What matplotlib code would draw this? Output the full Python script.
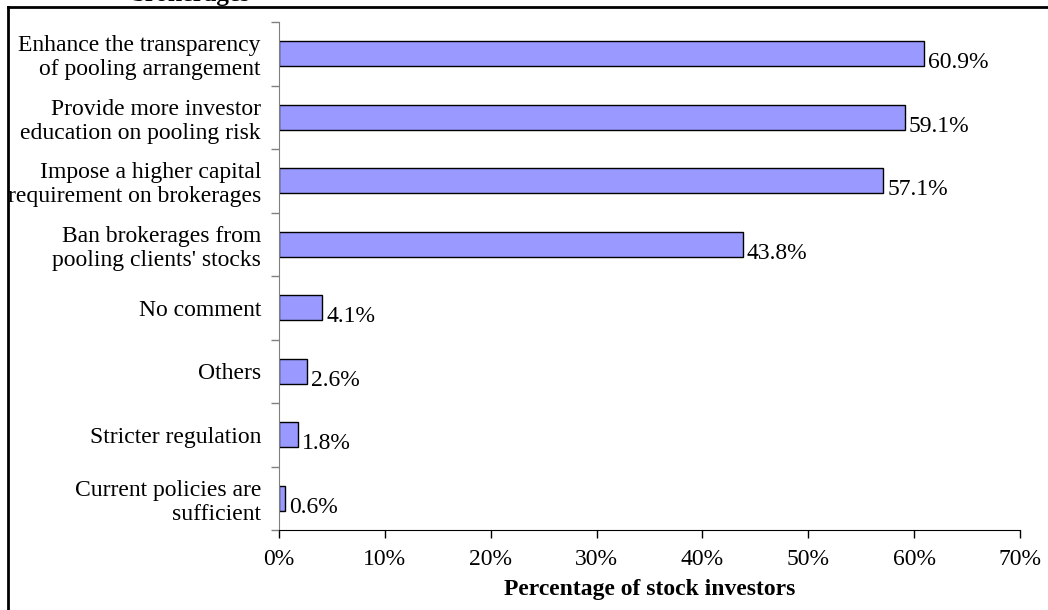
#!/usr/bin/env python3

import matplotlib
matplotlib.use('Agg')
import matplotlib.pyplot as plt
from matplotlib.lines import Line2D
from matplotlib.ticker import PercentFormatter

plt.rcParams['font.family'] = ['Liberation Serif', 'DejaVu Serif']

CATEGORIES = [
    'Enhance the transparency\nof pooling arrangement',
    'Provide more investor\neducation on pooling risk',
    'Impose a higher capital\nrequirement on brokerages',
    "Ban brokerages from\npooling clients' stocks",
    'No comment',
    'Others',
    'Stricter regulation',
    'Current policies are\nsufficient',
]
PERCENTAGES = [60.9, 59.1, 57.1, 43.8, 4.1, 2.6, 1.8, 0.6]
X_TICKS = [0, 10, 20, 30, 40, 50, 60, 70]

BAR_COLOR = '#9999ff'
FONT_SIZE = 17


def main(outfile='out.png'):
    fig = plt.figure(figsize=(10.48, 6.10), dpi=100)
    ax = fig.add_axes([279 / 1048, 1 - 530 / 610, (1020 - 279) / 1048, (530 - 22) / 610])

    positions = list(range(len(CATEGORIES)))
    ax.barh(positions, PERCENTAGES, height=0.4, color=BAR_COLOR,
            edgecolor='black', linewidth=1.0)
    for pos, value in zip(positions, PERCENTAGES):
        ax.text(value + 0.4, pos + 0.14, '{:.1f}%'.format(value),
                ha='left', va='center', fontsize=FONT_SIZE)

    ax.set_ylim(len(CATEGORIES) - 0.5, -0.5)
    ax.set_xlim(0, 70)
    ax.set_xticks(X_TICKS)
    ax.xaxis.set_major_formatter(PercentFormatter(decimals=0))

    # category labels sit between the tick marks, ticks on the boundaries
    ax.set_yticks([p - 0.5 for p in positions] + [len(CATEGORIES) - 0.5])
    ax.set_yticklabels([])
    ax.set_yticks(positions, minor=True)
    ax.set_yticklabels(CATEGORIES, minor=True, fontsize=FONT_SIZE,
                       multialignment='right', linespacing=1.2)
    ax.tick_params(axis='y', which='minor', length=0, pad=13)
    ax.tick_params(axis='y', which='major', length=6, width=1, color='#808080')
    ax.tick_params(axis='x', length=6, width=1, direction='out',
                   labelsize=FONT_SIZE, pad=8)

    for side in ('top', 'right'):
        ax.spines[side].set_visible(False)
    ax.spines['left'].set_color('#808080')
    ax.spines['bottom'].set_color('black')

    ax.set_xlabel('Percentage of stock investors', fontsize=FONT_SIZE,
                  fontweight='bold', labelpad=6)

    # outer frame and the clipped heading above it
    fig.add_artist(Line2D([8 / 1048, 8 / 1048], [0, 1 - 7 / 610],
                          transform=fig.transFigure, color='black', linewidth=2))
    fig.add_artist(Line2D([8 / 1048, 1], [1 - 7 / 610, 1 - 7 / 610],
                          transform=fig.transFigure, color='black', linewidth=2))
    fig.text(250 / 1048, 1 - 1.5 / 610, 'brokerages', ha='right', va='baseline',
             fontsize=18, fontweight='bold')

    fig.savefig(outfile, dpi=100)


if __name__ == '__main__':
    main()
